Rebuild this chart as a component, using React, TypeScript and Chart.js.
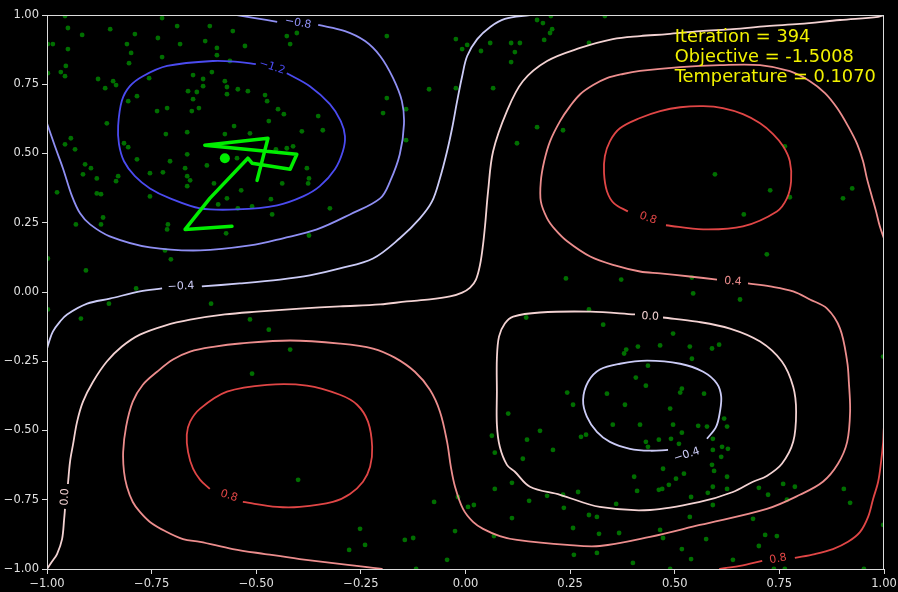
import React, { useEffect, useRef } from 'react';
import { Chart, registerables } from 'chart.js';
Chart.register(...registerables);

// ---------- axis ticks ----------
const xTicks = [-1, -0.75, -0.5, -0.25, 0, 0.25, 0.5, 0.75, 1];
const yTicks = [-1, -0.75, -0.5, -0.25, 0, 0.25, 0.5, 0.75, 1];

// ---------- contour levels ----------
const levels = [-1.2, -0.8, -0.4, 0.0, 0.4, 0.8];

// contour paths, [x, y]
const cNeg12 = [[-0.427,0.790],[-0.372,0.743],[-0.324,0.678],[-0.298,0.617],[-0.288,0.562],[-0.293,0.508],[-0.312,0.443],[-0.348,0.382],[-0.388,0.345],[-0.450,0.313],[-0.546,0.298],[-0.634,0.302],[-0.706,0.338],[-0.754,0.374],[-0.790,0.418],[-0.816,0.472],[-0.828,0.534],[-0.830,0.600],[-0.821,0.691],[-0.802,0.743],[-0.771,0.779],[-0.713,0.816],[-0.603,0.834],[-0.539,0.830],[-0.501,0.823]];
const cNeg08a = [[-1.0,0.609],[-0.981,0.526],[-0.962,0.447],[-0.940,0.345],[-0.921,0.284],[-0.897,0.244],[-0.850,0.201],[-0.754,0.161],[-0.634,0.150],[-0.515,0.168],[-0.436,0.194],[-0.355,0.226],[-0.276,0.280],[-0.204,0.338],[-0.180,0.400],[-0.157,0.497],[-0.147,0.606],[-0.152,0.689],[-0.173,0.772],[-0.204,0.852],[-0.240,0.906],[-0.288,0.942],[-0.352,0.964]];
const cNeg08b = [[-0.450,0.975],[-0.503,0.989],[-0.546,1.0],[-0.560,1.004]];
const cNeg04a = [[-1.0,-0.204],[-0.995,-0.179],[-0.986,-0.143],[-0.969,-0.107],[-0.952,-0.081],[-0.904,-0.042],[-0.850,-0.024],[-0.778,0.002],[-0.725,0.013]];
const cNeg04b = [[-0.630,0.020],[-0.539,0.031],[-0.443,0.045],[-0.372,0.060],[-0.300,0.085],[-0.221,0.121],[-0.157,0.194],[-0.109,0.266],[-0.080,0.327],[-0.061,0.411],[-0.044,0.508],[-0.032,0.591],[-0.020,0.689],[-0.008,0.779],[0.004,0.852],[0.028,0.913],[0.059,0.957],[0.094,0.986],[0.154,1.0],[0.17,1.004]];
const cNeg04loop = [[0.577,-0.530],[0.599,-0.486],[0.608,-0.432],[0.611,-0.378],[0.601,-0.331],[0.568,-0.288],[0.513,-0.259],[0.434,-0.248],[0.369,-0.259],[0.321,-0.280],[0.293,-0.324],[0.281,-0.389],[0.290,-0.450],[0.314,-0.505],[0.345,-0.541],[0.393,-0.566],[0.441,-0.573],[0.484,-0.570]];
const c00a = [[-1.0,-1.0],[-0.988,-0.973],[-0.976,-0.946],[-0.964,-0.892],[-0.959,-0.819],[-0.957,-0.783]];
const c00b = [[-0.950,-0.693],[-0.945,-0.613],[-0.938,-0.552],[-0.928,-0.468],[-0.914,-0.396],[-0.890,-0.324],[-0.857,-0.251],[-0.821,-0.197],[-0.778,-0.154],[-0.718,-0.121],[-0.658,-0.100],[-0.575,-0.081],[-0.498,-0.071],[-0.396,-0.060],[-0.300,-0.052],[-0.204,-0.045],[-0.140,-0.034],[-0.085,-0.027],[-0.037,-0.016],[-0.008,-0.002],[0.011,0.016],[0.025,0.045],[0.035,0.100],[0.042,0.172],[0.047,0.244],[0.054,0.364],[0.066,0.508],[0.099,0.653],[0.137,0.761],[0.195,0.834],[0.274,0.881],[0.352,0.913],[0.417,0.924],[0.482,0.931],[0.560,0.942],[0.639,0.949],[0.720,0.960],[0.799,0.968],[0.895,0.982],[0.986,0.993],[1.0,1.0]];
const c00loop = [[0.472,-0.092],[0.553,-0.107],[0.632,-0.132],[0.704,-0.179],[0.756,-0.251],[0.783,-0.342],[0.790,-0.432],[0.783,-0.541],[0.756,-0.620],[0.720,-0.664],[0.687,-0.685],[0.639,-0.722],[0.560,-0.758],[0.441,-0.787],[0.321,-0.776],[0.226,-0.732],[0.154,-0.703],[0.118,-0.649],[0.099,-0.624],[0.082,-0.559],[0.075,-0.479],[0.075,-0.360],[0.075,-0.241],[0.080,-0.161],[0.094,-0.114],[0.114,-0.089],[0.178,-0.074],[0.298,-0.071],[0.405,-0.081]];
const c04a = [[-0.200,-1.004],[-0.200,-1.0],[-0.276,-0.986],[-0.396,-0.964],[-0.479,-0.946],[-0.556,-0.928],[-0.634,-0.902],[-0.675,-0.892],[-0.718,-0.863],[-0.754,-0.830],[-0.778,-0.794],[-0.795,-0.758],[-0.809,-0.703],[-0.816,-0.649],[-0.818,-0.577],[-0.811,-0.486],[-0.795,-0.396],[-0.771,-0.335],[-0.737,-0.288],[-0.699,-0.244],[-0.658,-0.215],[-0.599,-0.197],[-0.539,-0.186],[-0.419,-0.175],[-0.300,-0.186],[-0.221,-0.204],[-0.169,-0.237],[-0.121,-0.288],[-0.085,-0.353],[-0.061,-0.432],[-0.044,-0.541],[-0.035,-0.631],[-0.025,-0.703],[-0.006,-0.783],[0.018,-0.830],[0.042,-0.855],[0.082,-0.881],[0.123,-0.895],[0.243,-0.913],[0.321,-0.917],[0.441,-0.884],[0.560,-0.841],[0.720,-0.783],[0.799,-0.732],[0.854,-0.685],[0.890,-0.620],[0.912,-0.541],[0.919,-0.432],[0.916,-0.324],[0.912,-0.251],[0.895,-0.132],[0.864,-0.060],[0.823,-0.027],[0.783,0.002],[0.728,0.020],[0.675,0.031]];
const c04b = [[0.601,0.045],[0.536,0.056],[0.465,0.067],[0.417,0.074],[0.357,0.096],[0.298,0.128],[0.243,0.183],[0.214,0.226],[0.195,0.266],[0.180,0.327],[0.180,0.400],[0.188,0.472],[0.202,0.544],[0.226,0.617],[0.250,0.671],[0.274,0.714],[0.305,0.747],[0.338,0.772],[0.376,0.787],[0.417,0.798],[0.513,0.812],[0.608,0.819],[0.704,0.819],[0.775,0.797],[0.823,0.761],[0.859,0.718],[0.888,0.664],[0.914,0.599],[0.936,0.534],[0.950,0.472],[0.959,0.411],[0.971,0.345],[0.981,0.291],[0.990,0.237],[1.0,0.193]];
const c08tr = [[0.479,0.241],[0.568,0.226],[0.663,0.237],[0.744,0.291],[0.768,0.338],[0.778,0.400],[0.775,0.472],[0.759,0.526],[0.735,0.570],[0.704,0.609],[0.663,0.642],[0.615,0.664],[0.568,0.671],[0.513,0.667],[0.465,0.653],[0.417,0.628],[0.369,0.591],[0.345,0.544],[0.333,0.490],[0.331,0.429],[0.338,0.364],[0.355,0.320],[0.388,0.291]];
const c08bl = [[-0.532,-0.758],[-0.450,-0.776],[-0.396,-0.776],[-0.317,-0.758],[-0.276,-0.729],[-0.245,-0.685],[-0.228,-0.631],[-0.223,-0.559],[-0.233,-0.468],[-0.259,-0.407],[-0.300,-0.371],[-0.379,-0.338],[-0.474,-0.335],[-0.570,-0.360],[-0.634,-0.421],[-0.658,-0.468],[-0.666,-0.515],[-0.663,-0.577],[-0.651,-0.638],[-0.634,-0.678],[-0.611,-0.711]];
const c08brA = [[0.608,-1.004],[0.608,-1.0],[0.656,-0.989],[0.709,-0.971]];
const c08brB = [[0.787,-0.960],[0.835,-0.946],[0.878,-0.928],[0.914,-0.902],[0.943,-0.866],[0.962,-0.812],[0.974,-0.747],[0.986,-0.685],[0.993,-0.613],[0.998,-0.541],[1.0,-0.486],[1.004,-0.47]];

const contourPieces = [
  { level: -1.2, pts: cNeg12 },
  { level: -0.8, pts: cNeg08a }, { level: -0.8, pts: cNeg08b },
  { level: -0.4, pts: cNeg04a }, { level: -0.4, pts: cNeg04b }, { level: -0.4, pts: cNeg04loop },
  { level: 0.0, pts: c00a }, { level: 0.0, pts: c00b }, { level: 0.0, pts: c00loop },
  { level: 0.4, pts: c04a }, { level: 0.4, pts: c04b },
  { level: 0.8, pts: c08tr }, { level: 0.8, pts: c08bl }, { level: 0.8, pts: c08brA }, { level: 0.8, pts: c08brB },
];

// contour label anchors
const labelLevel = [-1.2, -0.8, -0.4, -0.4, 0.0, 0.0, 0.4, 0.8, 0.8, 0.8];
const labelX = [-0.462, -0.400, -0.680, 0.529, 0.441, -0.957, 0.639, 0.436, -0.565, 0.747];
const labelY = [0.812, 0.971, 0.020, -0.588, -0.089, -0.740, 0.038, 0.266, -0.736, -0.964];
const labelAngle = [18, 10, -3, -18, 3, -87, 4, 20, 18, -10];

// annealing trajectory
const pathX = [-0.558, -0.670, -0.611, -0.520, -0.510, -0.419, -0.403, -0.623, -0.472, -0.498];
const pathY = [0.237, 0.226, 0.338, 0.483, 0.465, 0.443, 0.497, 0.530, 0.555, 0.403];
const currentX = [-0.575];
const currentY = [0.483];

// sampled points
const samples = [
[-0.957,0.996],[-0.950,0.953],[-0.916,0.928],[-0.986,0.895],[-0.950,0.877],[-0.849,0.949],[-0.790,0.931],[-0.809,0.895],[-0.799,0.863],[-0.804,0.826],
[-0.735,0.917],[-0.725,0.848],[-0.689,0.960],[-0.682,0.895],[-0.725,0.989],[-0.611,0.960],[-0.622,0.906],[-0.594,0.881],[-0.594,0.855],[-0.556,0.942],
[-0.527,0.888],[-0.563,0.834],[-0.427,0.924],[-0.403,0.935],[-0.419,0.895],[-0.955,0.816],[-0.967,0.794],[-0.957,0.779],[-0.878,0.769],[-0.842,0.761],
[-0.835,0.747],[-0.861,0.736],[-0.785,0.707],[-0.806,0.689],[-0.756,0.772],[-0.651,0.783],[-0.663,0.725],[-0.642,0.722],[-0.627,0.743],[-0.627,0.769],
[-0.606,0.794],[-0.575,0.761],[-0.570,0.740],[-0.544,0.732],[-0.520,0.725],[-0.570,0.714],[-0.479,0.711],[-0.474,0.689],[-0.651,0.696],[-0.857,0.609],
[-0.943,0.555],[-0.957,0.533],[-0.933,0.515],[-0.816,0.537],[-0.806,0.523],[-0.785,0.479],[-0.909,0.461],[-0.895,0.447],[-0.914,0.425],[-0.881,0.410],
[-0.830,0.418],[-0.835,0.400],[-0.976,0.360],[-0.881,0.356],[-0.871,0.353],[-0.998,0.895],[-0.998,0.790],
[-0.737,0.653],[-0.713,0.664],[-0.654,0.653],[-0.637,0.664],[-0.553,0.599],[-0.575,0.570],[-0.515,0.573],[-0.470,0.617],[-0.448,0.660],[-0.434,0.642],
[-0.391,0.580],[-0.352,0.635],[-0.341,0.584],[-0.716,0.570],[-0.665,0.577],[-0.665,0.497],[-0.706,0.472],[-0.754,0.429],[-0.723,0.432],[-0.670,0.447],
[-0.665,0.418],[-0.658,0.403],[-0.665,0.382],[-0.618,0.457],[-0.601,0.392],[-0.546,0.483],[-0.536,0.367],[-0.570,0.338],[-0.591,0.316],[-0.544,0.302],
[-0.510,0.309],[-0.465,0.335],[-0.462,0.280],[-0.438,0.392],[-0.453,0.515],[-0.427,0.519],[-0.412,0.526],[-0.379,0.447],[-0.374,0.410],[-0.376,0.392],
[-0.324,0.302],[-0.754,0.345],[-0.711,0.244],[-0.713,0.226],[-0.572,0.212],[-0.374,0.204],
[-0.931,0.244],[-0.871,0.244],[-0.866,0.269],[-0.718,0.150],[-0.704,0.118],[-0.907,0.078],[-0.998,0.121],[-0.787,0.013],[-0.852,-0.042],[-0.919,-0.096],[-0.998,-0.063],
[-0.608,-0.042],[-0.515,-0.099],[-0.470,-0.136],[-0.419,-0.208],[-0.510,-0.295],[-0.400,-0.678],
[-0.188,0.924],[-0.023,0.913],[0.004,0.892],[-0.008,0.877],[0.059,0.899],[0.037,0.870],[0.109,0.899],[0.130,0.899],[0.118,0.866],[0.109,0.830],
[0.171,0.982],[0.185,0.971],[0.204,0.996],[0.207,0.949],[0.202,0.935],[0.188,0.910],[0.295,0.899],[0.333,0.996],[-0.087,0.732],[-0.023,0.736],
[0.066,0.736],[-0.188,0.700],[-0.197,0.646],[-0.142,0.660],[-0.142,0.548],[0.171,0.595],[0.233,0.584],[0.123,0.537],
[0.763,0.526],[0.596,0.425],[0.728,0.367],[0.775,0.342],[0.902,0.338],[0.924,0.374],[0.665,0.280],[0.720,0.136],[0.544,-0.005],[0.656,-0.027],
[0.541,0.052],[0.496,-0.150],[0.465,-0.193],[0.536,-0.197],[0.589,-0.204],[0.606,-0.190],[0.541,-0.241],[0.998,-0.233],
[0.240,0.049],[0.372,0.045],[0.295,-0.063],[0.329,-0.118],[0.384,-0.208],[0.412,-0.197],[0.145,-0.092],
[0.379,-0.222],[0.436,-0.266],[0.407,-0.309],[0.431,-0.338],[0.517,-0.349],[0.513,-0.363],[0.570,-0.367],[0.618,-0.457],[0.625,-0.486],[0.489,-0.421],
[0.381,-0.407],[0.338,-0.367],[0.243,-0.363],[0.257,-0.407],[0.352,-0.479],[0.417,-0.479],[0.496,-0.479],[0.556,-0.483],[0.577,-0.486],[0.288,-0.515],
[0.276,-0.523],[0.178,-0.501],[0.147,-0.533],[0.063,-0.519],[0.102,-0.439],[0.209,-0.570],[0.070,-0.580],[0.431,-0.541],[0.436,-0.559],[0.462,-0.533],
[0.491,-0.530],[0.517,-0.508],[0.510,-0.548],[0.591,-0.530],[0.613,-0.559],[0.591,-0.570],[0.627,-0.566],[0.611,-0.595],[0.589,-0.624],[0.594,-0.646],
[0.625,-0.667],[0.472,-0.638],[0.522,-0.656],[0.503,-0.674],[0.486,-0.696],[0.470,-0.711],[0.403,-0.667],[0.137,-0.602],[0.111,-0.689],[0.070,-0.711],
[0.591,-0.703],[0.625,-0.711],
[-0.075,-0.758],[-0.018,-0.740],[0.006,-0.776],[0.020,-0.769],[0.152,-0.754],[0.195,-0.736],[0.233,-0.732],[0.269,-0.722],[0.235,-0.779],[0.295,-0.805],
[0.314,-0.812],[0.111,-0.816],[0.257,-0.852],[0.319,-0.873],[-0.025,-0.863],[-0.252,-0.855],[-0.240,-0.913],[-0.278,-0.931],[-0.145,-0.895],[-0.125,-0.888],
[-0.044,-0.967],[0.068,-0.881],[0.259,-0.949],[0.314,-0.942],[-0.118,-1.0],
[0.410,-0.718],[0.462,-0.714],[0.539,-0.740],[0.579,-0.725],[0.701,-0.707],[0.759,-0.693],[0.787,-0.703],[0.723,-0.732],[0.768,-0.750],[0.904,-0.711],
[0.360,-0.765],[0.536,-0.812],[0.591,-0.769],[0.687,-0.819],[0.367,-0.870],[0.465,-0.859],[0.472,-0.888],[0.575,-0.892],[0.716,-0.877],[0.744,-0.881],
[0.701,-0.917],[0.517,-0.928],[0.400,-0.978],[0.489,-1.0],[0.539,-0.964],[0.639,-0.967],[0.737,-1.0],[0.763,-1.0],[0.919,-0.761],[0.952,-1.0],[0.998,-0.841],
];

const levelColor: Record<string, string> = {
  '-1.2': '#4b4bf0',
  '-0.8': '#8f8ff3',
  '-0.4': '#cbcbf6',
  '0': '#f3d2d2',
  '0.4': '#ec8d8d',
  '0.8': '#e04646',
};
const colorFor = (lv: number) => levelColor[String(lv)];
const fmtLevel = (lv: number) => lv.toFixed(1).replace('-', '\u2212');
const fmtTick = (v: number) => Number(v).toFixed(2).replace('-', '\u2212');

const annotationLines = ['Iteration = 394', 'Objective = -1.5008', 'Temperature = 0.1070'];

const overlayPlugin = {
  id: 'overlay',
  afterDatasetsDraw(chart: any) {
    const { ctx, chartArea: a, scales } = chart;
    ctx.save();
    // contour labels
    ctx.font = '11px "DejaVu Sans"';
    ctx.textAlign = 'center';
    ctx.textBaseline = 'middle';
    labelLevel.forEach((lv, i) => {
      const px = scales.x.getPixelForValue(labelX[i]);
      const py = scales.y.getPixelForValue(labelY[i]);
      ctx.save();
      ctx.translate(px, py);
      ctx.rotate((labelAngle[i] * Math.PI) / 180);
      ctx.fillStyle = colorFor(lv);
      ctx.fillText(fmtLevel(lv), 0, 0);
      ctx.restore();
    });
    // frame
    ctx.strokeStyle = '#dcdcdc';
    ctx.lineWidth = 1;
    ctx.strokeRect(a.left + 0.5, a.top + 0.5, a.right - a.left - 1, a.bottom - a.top);
    // annotation
    ctx.font = '17.8px "DejaVu Sans"';
    ctx.fillStyle = '#f2f200';
    ctx.textAlign = 'left';
    ctx.textBaseline = 'alphabetic';
    const tx = a.left + 0.75 * (a.right - a.left);
    annotationLines.forEach((t, i) => ctx.fillText(t, tx, a.top + 27 + i * 20));
    ctx.restore();
  },
};

export default function App() {
  const ref = useRef<HTMLCanvasElement>(null);
  useEffect(() => {
    document.body.style.margin = '0';
    document.body.style.background = '#000';
    const datasets: any[] = [];
    datasets.push({
      data: currentX.map((x, i) => ({ x, y: currentY[i] })),
      pointRadius: 5, pointBackgroundColor: '#00ee00', pointBorderWidth: 0, showLine: false,
    });
    datasets.push({
      data: pathX.map((x, i) => ({ x, y: pathY[i] })),
      showLine: true, borderColor: '#00ee00', borderWidth: 3.5, pointRadius: 0, tension: 0,
      borderJoinStyle: 'round', borderCapStyle: 'round',
    });
    contourPieces.forEach((p) => {
      datasets.push({
        data: p.pts.map(([x, y]) => ({ x, y })),
        showLine: true, borderColor: colorFor(p.level), borderWidth: 1.8, pointRadius: 0,
        tension: 0.35, fill: false,
      });
    });
    datasets.push({
      data: samples.map(([x, y]) => ({ x, y })),
      pointRadius: 2.4, pointBackgroundColor: 'rgba(0,120,0,0.92)', pointBorderWidth: 0, showLine: false,
    });

    const axisCommon = (ticksArr: number[]) => ({
      type: 'linear',
      min: -1, max: 1,
      afterBuildTicks: (s: any) => { s.ticks = ticksArr.map((v) => ({ value: v })); },
      ticks: {
        color: '#e0e0e0', font: { family: 'DejaVu Sans', size: 11.5 }, padding: 3,
        autoSkip: false, maxRotation: 0, callback: (v: any) => fmtTick(v),
      },
      grid: { drawOnChartArea: false, drawTicks: true, tickLength: 5, color: '#dcdcdc' },
      border: { display: true, color: '#dcdcdc', width: 1 },
    });

    const chart = new Chart(ref.current!, {
      type: 'scatter',
      data: { datasets },
      options: {
        animation: false,
        responsive: false,
        events: [],
        layout: { padding: { left: 0, right: 14, top: 15, bottom: 0 } },
        plugins: { legend: { display: false }, tooltip: { enabled: false } },
        scales: {
          x: {
            ...axisCommon(xTicks),
            afterFit: (s: any) => { s.height = 23; s.paddingLeft = 0; s.paddingRight = 0; },
          },
          y: { ...axisCommon(yTicks), afterFit: (s: any) => { s.width = 47; } },
        } as any,
      },
      plugins: [overlayPlugin],
    } as any);
    return () => chart.destroy();
  }, []);
  return (
    <div style={{ position: 'fixed', left: 0, top: 0, width: 898, height: 592, background: '#000' }}>
      <canvas ref={ref} width={898} height={592} style={{ width: 898, height: 592, display: 'block' }} />
    </div>
  );
}
